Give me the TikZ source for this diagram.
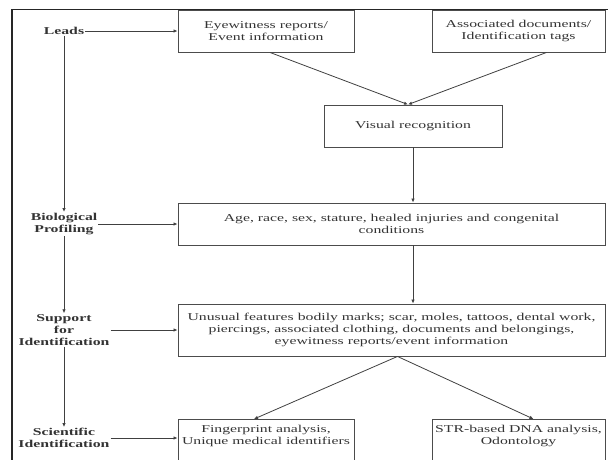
\documentclass[tikz,border=0pt]{standalone}
\usepackage{fontspec}
\setmainfont[FakeStretch=1.5]{Liberation Serif}
\usetikzlibrary{arrows.meta}

\begin{document}
\begin{tikzpicture}[x=1pt, y=-1pt,
    font=\fontsize{10.5}{12}\selectfont, text=black!80,
    box/.style={rectangle, draw=black!70, line width=0.9pt, align=center, inner sep=0pt},
    tag/.style={font=\fontsize{10.5}{12}\selectfont\bfseries, align=center, inner sep=1pt},
    link/.style={draw=black!75, line width=0.8pt, -{Latex[length=4pt,width=3.5pt]}}]
      \useasboundingbox (0,0) rectangle (608,459);
      \clip (0,0) rectangle (608,459);

      % Frame
      \draw [black!85, line width=1.3pt] (12,470) -- (12,9.5) -- (620,9.5);

      % Nodes
      \node (eyewit) [box, minimum width=176pt, minimum height=42pt] at (266,31) {Eyewitness reports/\\Event information};
      \node (assoc) [box, minimum width=173pt, minimum height=42pt] at (518.5,31) {Associated documents/\\Identification tags};
      \node (visual) [box, minimum width=178pt, minimum height=42pt] at (413,126) {Visual recognition};
      \node (profile) [box, minimum width=427pt, minimum height=42pt] at (391.5,224) {Age, race, sex, stature, healed injuries and congenital\\conditions};
      \node (support) [box, minimum width=427pt, minimum height=52pt] at (391.5,330) {Unusual features bodily marks; scar, moles, tattoos, dental work,\\piercings, associated clothing, documents and belongings,\\eyewitness reports/event information};
      \node (finger) [box, anchor=north, minimum width=176pt, inner ysep=6pt, text depth=40pt] at (266,419) {Fingerprint analysis,\\Unique medical identifiers};
      \node (strdna) [box, anchor=north, minimum width=173pt, inner ysep=6pt, text depth=40pt] at (518.5,419) {STR-based DNA analysis,\\Odontology};

      % Labels
      \node (leads) [tag] at (64,31) {Leads};
      \node (bio) [tag] at (64,224) {Biological\\Profiling};
      \node (supp) [tag] at (64,330) {Support\\for\\Identification};
      \node (sci) [tag] at (64,438) {Scientific\\Identification};

      % Arrows
      \draw [link] (leads.east) -- (leads.east -| eyewit.west);
      \draw [link] (bio.east) -- (bio.east -| profile.west);
      \draw [link] (supp.east) -- (supp.east -| support.west);
      \draw [link] (sci.east) -- (sci.east -| finger.west);
      \draw [link] (leads) -- (bio);
      \draw [link] (bio) -- (supp);
      \draw [link] (supp) -- (sci);
      \draw [link] ([xshift=4pt]eyewit.south) -- ([xshift=-5pt]visual.north);
      \draw [link] ([xshift=28pt]assoc.south) -- ([xshift=-5pt]visual.north);
      \draw [link] (visual) -- (visual.south |- profile.north);
      \draw [link] (profile.south -| visual.south) -- (support.north -| visual.south);
      \draw [link] ([xshift=6pt]support.south) -- ([xshift=-12pt]finger.north);
      \draw [link] ([xshift=6pt]support.south) -- ([xshift=15pt]strdna.north);
  \end{tikzpicture}
\end{document}
